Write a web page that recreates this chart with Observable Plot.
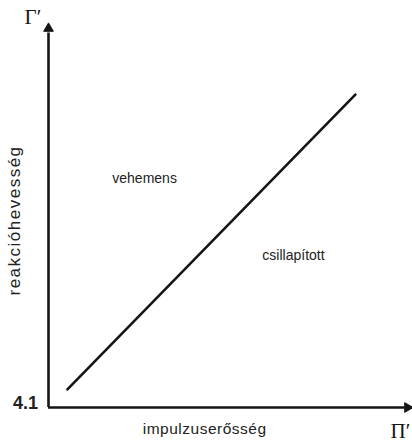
<!DOCTYPE html>
<html>
<head>
<meta charset="utf-8">
<script src="https://cdn.jsdelivr.net/npm/d3@7"></script>
<script src="https://cdn.jsdelivr.net/npm/@observablehq/plot@0.6"></script>
<style>
  html, body { margin: 0; padding: 0; background: #fff; }
  #chart svg { display: block; }
</style>
</head>
<body>
<div id="chart"></div>
<script>
// Boundary line between the two regimes (normalised axes)
const boundaryX = [0.052, 0.843];
const boundaryY = [0.047, 0.815];

// Labels
const xTitle = "impulzuserősség";
const yTitle = "reakcióhevesség";
const xSymbol = "Π′";
const ySymbol = "Γ′";
const originLabel = "4.1";
const regionLabels = ["vehemens", "csillapított"];
const regionX = [0.264, 0.673];
const regionY = [0.596, 0.396];

const boundary = boundaryX.map((x, i) => ({x, y: boundaryY[i]}));
const regions = regionLabels.map((t, i) => ({t, x: regionX[i], y: regionY[i]}));

const ink = "#151515";
const sans = "Liberation Sans, Arial, sans-serif";
const serif = "Liberation Serif, Times New Roman, serif";

const plot = Plot.plot({
  width: 412,
  height: 442,
  marginLeft: 48,
  marginRight: 0,
  marginTop: 23,
  marginBottom: 35,
  x: {domain: [0, 1], axis: null},
  y: {domain: [0, 1], axis: null},
  style: {background: "#fff", overflow: "visible"},
  marks: [
    // axes
    Plot.ruleX([0], {y1: 0, y2: 0.975, stroke: ink, strokeWidth: 2.6}),
    Plot.ruleY([0], {x1: 0, x2: 0.98, stroke: ink, strokeWidth: 2.6}),
    Plot.dot([0], {x: 0, y: 1, symbol: "triangle", r: 3.6, fill: ink, stroke: ink, strokeWidth: 1, dy: 5}),
    Plot.dot([0], {x: 1, y: 0, symbol: "triangle", r: 3.6, fill: ink, stroke: ink, strokeWidth: 1, dx: -5, rotate: 90}),
    // boundary
    Plot.line(boundary, {x: "x", y: "y", stroke: ink, strokeWidth: 2.6}),
    // region labels
    Plot.text(regions, {x: "x", y: "y", text: "t", fontSize: 14, fontFamily: sans, fill: "#222"}),
    // axis titles
    Plot.text([xTitle], {x: 0.429, y: -0.055, text: d => d, fontSize: 15.5, fontFamily: sans, fill: "#222"}),
    Plot.text([yTitle], {x: -0.093, y: 0.487, text: d => d, fontSize: 17, fontFamily: sans, fill: "#222", rotate: -90}),
    // symbols
    Plot.text([ySymbol], {x: -0.043, y: 1.016, text: d => d, fontSize: 21, fontFamily: serif, fill: ink}),
    Plot.text([xSymbol], {x: 0.967, y: -0.0625, text: d => d, fontSize: 21, fontFamily: serif, fill: ink}),
    Plot.text([originLabel], {x: -0.029, y: 0.010, text: d => d, textAnchor: "end", fontSize: 18, fontWeight: "bold", fontFamily: sans, fill: "#222"})
  ]
});

document.getElementById("chart").appendChild(plot);

// stretch the axis titles like the reference
plot.querySelectorAll("text").forEach(t => {
  if (t.textContent === xTitle) t.style.letterSpacing = "0.5px";
  if (t.textContent === yTitle) t.style.letterSpacing = "1.5px";
});
</script>
</body>
</html>
